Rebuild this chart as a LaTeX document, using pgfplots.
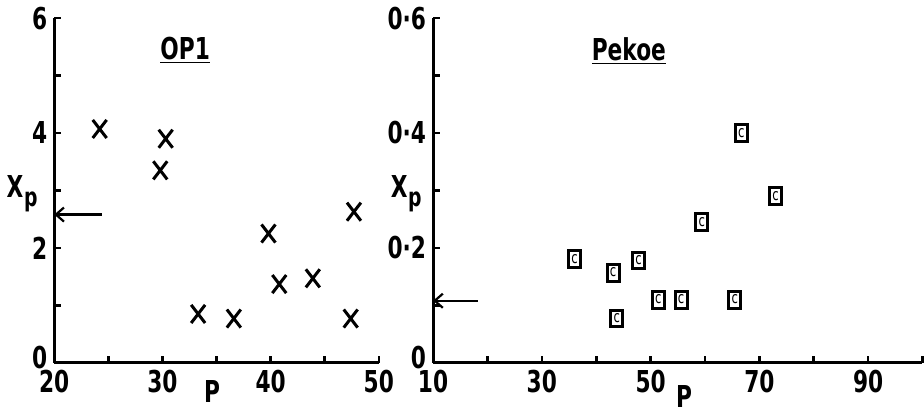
\documentclass[border=0pt]{standalone}
\usepackage{fontspec}
\setmainfont{DejaVu Sans}[FakeStretch=0.72]
\usepackage{pgfplots}
\usepackage{pgfplotstable}
\pgfplotsset{compat=1.18}
\usetikzlibrary{arrows.meta}

% OP1: P vs X_p
\pgfplotstableread{
P Xp
24.2 4.07
30.3 3.90
29.8 3.35
33.3 0.85
36.6 0.77
39.8 2.25
40.8 1.37
43.9 1.47
47.7 2.63
47.4 0.77
}\opone

% Pekoe: P vs X_p
\pgfplotstableread{
P Xp
66.7 0.400
73.0 0.290
59.4 0.245
36.0 0.180
43.1 0.157
47.8 0.178
51.4 0.110
55.6 0.110
65.5 0.110
43.8 0.077
}\pekoe

\newcommand{\Xp}{X\kern0.3pt\raisebox{-0.32em}{\fontsize{13}{13}\selectfont p}}

\pgfplotsset{
  scan/.style={
    scale only axis, height=171.5pt,
    axis lines=left, axis line style={-, line width=1.5pt},
    enlargelimits=false, clip=false,
    tick align=inside, major tick length=3.5pt, minor tick length=3.5pt,
    every tick/.style={line width=1.3pt, black},
    every minor tick/.style={line width=1.3pt, black},
    /pgf/number format/assume math mode=true,
  },
}

\begin{document}
\begin{tikzpicture}[font=\bfseries\fontsize{15}{18}\selectfont]
\begin{axis}[scan, width=161.5pt,
  at={(0pt,0pt)}, anchor=south west,
  xmin=20, xmax=50, ymin=0, ymax=6,
  xtick={20,30,40,50}, minor xtick={25,35,45},
  ytick={0,2,4,6}, minor ytick={1,3,5},
  yticklabels={\raisebox{5pt}{0},2,4,6},
  xlabel={P}, ylabel={\Xp},
  every axis x label/.style={at={(axis description cs:0.486,-0.082)}, anchor=center},
  every axis y label/.style={at={(axis description cs:-0.099,0.49)}, anchor=center},
]
\addplot[only marks, mark=x, mark size=4.9pt, line width=1.5pt,
  every mark/.append style={yscale=1.3}] table[x=P, y=Xp] {\opone};
\draw[{Straight Barb[length=4pt,width=7pt]}-, line width=1.1pt]
  (axis cs:20,2.58) -- (axis cs:24.4,2.58);
\node at (axis cs:32.1,5.44) {\underline{OP1}};
\end{axis}

\begin{axis}[scan, width=243.5pt,
  at={(188.5pt,0pt)}, anchor=south west,
  xmin=10, xmax=100, ymin=0, ymax=0.6,
  xtick={10,30,50,70,90}, minor xtick={20,40,60,80,100},
  ytick={0,0.2,0.4,0.6}, minor ytick={0.1,0.3,0.5},
  yticklabels={\raisebox{5pt}{0},0·2,0·4,0·6},
  xlabel={P}, ylabel={\Xp},
  every axis x label/.style={at={(axis description cs:0.513,-0.099)}, anchor=center},
  every axis y label/.style={at={(axis description cs:-0.055,0.49)}, anchor=center},
]
\addplot[only marks, mark=square, mark size=3pt, line width=1.5pt,
  every mark/.append style={yscale=1.4}] table[x=P, y=Xp] {\pekoe};
\addplot[only marks, mark=text, text mark={\fontsize{8}{8}\selectfont c}] table[x=P, y=Xp] {\pekoe};
\draw[{Straight Barb[length=4pt,width=7pt]}-, line width=1.1pt]
  (axis cs:10,0.108) -- (axis cs:18.2,0.108);
\node at (axis cs:46,0.543) {\underline{Pekoe}};
\end{axis}
\end{tikzpicture}
\end{document}
